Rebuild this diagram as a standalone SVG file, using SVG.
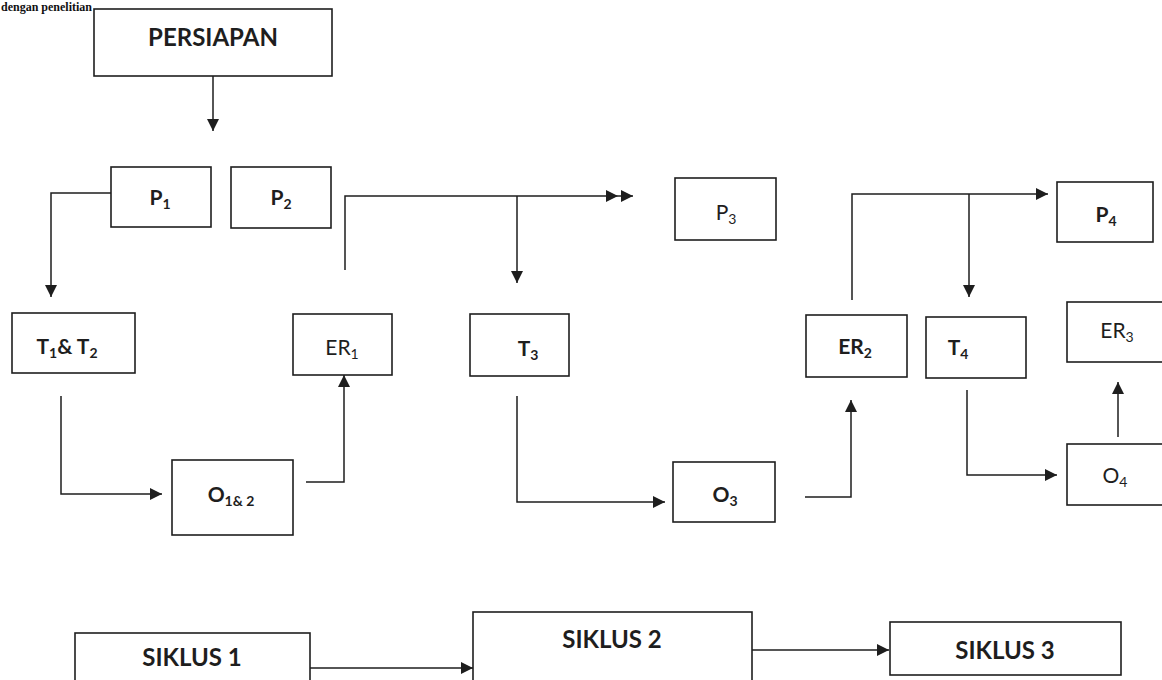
<svg xmlns="http://www.w3.org/2000/svg" width="1162" height="680" viewBox="0 0 1162 680">
<defs>
<marker id="ah" viewBox="0 0 10 10" markerUnits="userSpaceOnUse" markerWidth="13" markerHeight="12" refX="10" refY="5" orient="auto">
<path d="M0,0 L10,5 L0,10 z" fill="#1e1e1e"/>
</marker>
<style>
.box{fill:#fff;stroke:#1e1e1e;stroke-width:1.6}
.ar{fill:none;stroke:#1e1e1e;stroke-width:1.5;marker-end:url(#ah)}
.t{font-family:Lato,"Open Sans","Liberation Sans",sans-serif;font-size:21px;font-weight:bold;fill:#1e1e1e;text-anchor:middle}
.r{font-weight:normal}
.big{font-size:24px}
.sub{font-size:14px}
.hd{font-family:"Liberation Serif",serif;font-size:12px;font-weight:bold;fill:#111}
</style>
</defs>
<rect width="1162" height="680" fill="#fff"/>
<text class="hd" x="1" y="11">dengan  penelitian</text>

<g id="connectors">
<path class="ar" d="M213,76 V131"/>
<path class="ar" d="M111,193 H51 V297"/>
<path class="ar" d="M61,396 V494 H162"/>
<path class="ar" d="M306,482 H344 V375"/>
<path class="ar" d="M345,270 V196 H618"/>
<path class="ar" d="M618,196 H633"/>
<path class="ar" d="M517,196 V283"/>
<path class="ar" d="M517,396 V502 H665"/>
<path class="ar" d="M805,497 H851 V400"/>
<path class="ar" d="M852,300 V194 H1048"/>
<path class="ar" d="M969,194 V297"/>
<path class="ar" d="M967,390 V475 H1057"/>
<path class="ar" d="M1118,437 V382"/>
<path class="ar" d="M310,668 H473"/>
<path class="ar" d="M752,650 H889"/>
</g>

<g id="persiapan"><rect class="box" x="94" y="9" width="238" height="67"/><text class="t big" x="213" y="46">PERSIAPAN</text></g>
<g id="p1"><rect class="box" x="111" y="167" width="100" height="60"/><text class="t" x="160" y="205">P<tspan class="sub" dy="4">1</tspan></text></g>
<g id="p2"><rect class="box" x="231" y="167" width="100" height="61"/><text class="t" x="281" y="205">P<tspan class="sub" dy="4">2</tspan></text></g>
<g id="p3"><rect class="box" x="675" y="178" width="101" height="62"/><text class="t r" x="726" y="220">P<tspan class="sub" dy="4">3</tspan></text></g>
<g id="p4"><rect class="box" x="1057" y="182" width="96" height="60"/><text class="t" x="1106" y="222">P<tspan class="sub" dy="4">4</tspan></text></g>
<g id="t12"><rect class="box" x="12" y="313" width="123" height="60"/><text class="t" x="67" y="354">T<tspan class="sub" dy="4">1</tspan><tspan dy="-4">&amp; T</tspan><tspan class="sub" dy="4">2</tspan></text></g>
<g id="er1"><rect class="box" x="293" y="314" width="99" height="61"/><text class="t r" x="342" y="355">ER<tspan class="sub" dy="4">1</tspan></text></g>
<g id="t3"><rect class="box" x="470" y="314" width="99" height="62"/><text class="t" x="528" y="356">T<tspan class="sub" dy="4">3</tspan></text></g>
<g id="er2"><rect class="box" x="806" y="315" width="101" height="62"/><text class="t" x="855" y="354">ER<tspan class="sub" dy="4">2</tspan></text></g>
<g id="t4"><rect class="box" x="926" y="317" width="100" height="61"/><text class="t" x="958" y="355">T<tspan class="sub" dy="4">4</tspan></text></g>
<g id="er3"><rect class="box" x="1067" y="302" width="110" height="60"/><text class="t r" x="1117" y="338">ER<tspan class="sub" dy="4">3</tspan></text></g>
<g id="o12"><rect class="box" x="172" y="460" width="121" height="75"/><text class="t" x="231" y="502">O<tspan class="sub" dy="4">1&amp; 2</tspan></text></g>
<g id="o3"><rect class="box" x="673" y="462" width="102" height="60"/><text class="t" x="725" y="502">O<tspan class="sub" dy="4">3</tspan></text></g>
<g id="o4"><rect class="box" x="1067" y="444" width="110" height="61"/><text class="t r" x="1115" y="483">O<tspan class="sub" dy="4">4</tspan></text></g>
<g id="siklus1"><rect class="box" x="75" y="633" width="235" height="70"/><text class="t big" x="192" y="666">SIKLUS 1</text></g>
<g id="siklus2"><rect class="box" x="473" y="612" width="279" height="90"/><text class="t big" x="612" y="648">SIKLUS 2</text></g>
<g id="siklus3"><rect class="box" x="890" y="622" width="231" height="53"/><text class="t big" x="1005" y="659">SIKLUS 3</text></g>
</svg>
